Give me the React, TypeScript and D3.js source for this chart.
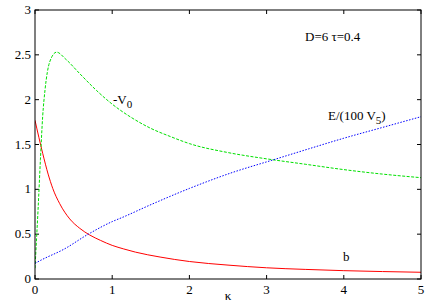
import React, { useRef, useEffect } from 'react';
import * as d3 from 'd3';

// curve samples
const kappaB = [0, 0.05, 0.1, 0.17, 0.23, 0.32, 0.45, 0.58, 0.71, 0.85, 1.0, 1.15, 1.3, 1.62, 2, 2.5, 3, 3.5, 4, 4.5, 5];
const bVals = [1.77, 1.58, 1.4, 1.17, 1.01, 0.84, 0.67, 0.565, 0.49, 0.43, 0.375, 0.335, 0.3, 0.245, 0.195, 0.155, 0.125, 0.107, 0.093, 0.083, 0.075];

const kappaV = [0, 0.02, 0.04, 0.07, 0.1, 0.13, 0.19, 0.28, 0.4, 0.58, 0.8, 1.0, 1.25, 1.5, 1.75, 2, 2.5, 3, 3.5, 4, 4.5, 5];
const v0Vals = [0.12, 0.45, 0.78, 1.33, 1.82, 2.11, 2.42, 2.53, 2.45, 2.29, 2.1, 1.95, 1.8, 1.68, 1.59, 1.51, 1.41, 1.34, 1.28, 1.22, 1.17, 1.13];

const kappaE = [0, 0.1, 0.37, 0.69, 1, 1.14, 1.49, 2, 2.53, 3.09, 3.54, 4, 4.5, 5];
const eVals = [0.175, 0.22, 0.33, 0.5, 0.64, 0.69, 0.825, 1.01, 1.18, 1.33, 1.45, 1.57, 1.69, 1.81];

const xTicks = [0, 1, 2, 3, 4, 5];
const yTicks = [0, 0.5, 1, 1.5, 2, 2.5, 3];

const W = 436, H = 305;
const margin = { top: 10, right: 15, bottom: 26, left: 35 };

const App = () => {
  const ref = useRef<SVGSVGElement>(null);

  useEffect(() => {
    const svg = d3.select(ref.current);
    svg.selectAll('*').remove();

    const x = d3.scaleLinear().domain([0, 5]).range([margin.left, W - margin.right]);
    const y = d3.scaleLinear().domain([0, 3]).range([H - margin.bottom, margin.top]);

    // ticks on all four sides, pointing inward
    const tl = 4;
    const g = svg.append('g').attr('stroke', '#000').attr('stroke-width', 1);
    xTicks.forEach(t => {
      g.append('line').attr('x1', x(t)).attr('x2', x(t)).attr('y1', y(0)).attr('y2', y(0) - tl);
      g.append('line').attr('x1', x(t)).attr('x2', x(t)).attr('y1', y(3)).attr('y2', y(3) + tl);
    });
    yTicks.forEach(t => {
      g.append('line').attr('x1', x(0)).attr('x2', x(0) + tl).attr('y1', y(t)).attr('y2', y(t));
      g.append('line').attr('x1', x(5)).attr('x2', x(5) - tl).attr('y1', y(t)).attr('y2', y(t));
    });

    svg.append('g').attr('font-size', 13).attr('text-anchor', 'middle')
      .selectAll('text').data(xTicks).join('text')
      .attr('x', d => x(d)).attr('y', y(0) + 15).text(d => d3.format('d')(d));

    svg.append('g').attr('font-size', 13).attr('text-anchor', 'end')
      .selectAll('text').data(yTicks).join('text')
      .attr('x', x(0) - 4).attr('y', d => y(d) + 4).text(d => String(d));

    const line = d3.line<[number, number]>().x(d => x(d[0])).y(d => y(d[1])).curve(d3.curveMonotoneX);
    const clip = svg.append('defs').append('clipPath').attr('id', 'plot');
    clip.append('rect').attr('x', x(0)).attr('y', y(3)).attr('width', x(5) - x(0)).attr('height', y(0) - y(3));

    const curves = svg.append('g').attr('clip-path', 'url(#plot)').attr('fill', 'none').attr('stroke-width', 1);
    curves.append('path')
      .attr('d', line(kappaB.map((k, i) => [k, bVals[i]] as [number, number])))
      .attr('stroke', '#ff0000');
    curves.append('path')
      .attr('d', line(kappaV.map((k, i) => [k, v0Vals[i]] as [number, number])))
      .attr('stroke', '#00e000').attr('stroke-dasharray', '3,1.5');
    curves.append('path')
      .attr('d', line(kappaE.map((k, i) => [k, eVals[i]] as [number, number])))
      .attr('stroke', '#0000ff').attr('stroke-dasharray', '1.5,1.5');

    svg.append('rect').attr('x', x(0)).attr('y', y(3)).attr('width', x(5) - x(0)).attr('height', y(0) - y(3))
      .attr('fill', 'none').attr('stroke', '#000').attr('stroke-width', 1);

    const lab = svg.append('g').attr('font-size', 13);
    const v0 = lab.append('text').attr('x', 113).attr('y', 104);
    v0.append('tspan').text('-V');
    v0.append('tspan').attr('dy', 4).attr('font-size', 11).text('0');

    const e = lab.append('text').attr('x', 328).attr('y', 120);
    e.append('tspan').text('E/(100 V');
    e.append('tspan').attr('dy', 4).attr('font-size', 11).text('5');
    e.append('tspan').attr('dy', -4).text(')');

    lab.append('text').attr('x', 305).attr('y', 41).text('D=6 τ=0.4');
    lab.append('text').attr('x', 343).attr('y', 261).text('b');
    lab.append('text').attr('x', 228).attr('y', 300).attr('text-anchor', 'middle').text('κ');
  }, []);

  return (
    <svg ref={ref} width={W} height={H}
      style={{ display: 'block', position: 'absolute', left: 0, top: 0, fontFamily: "'Liberation Serif', 'Times New Roman', serif" }}>
    </svg>
  );
};

export default App;
